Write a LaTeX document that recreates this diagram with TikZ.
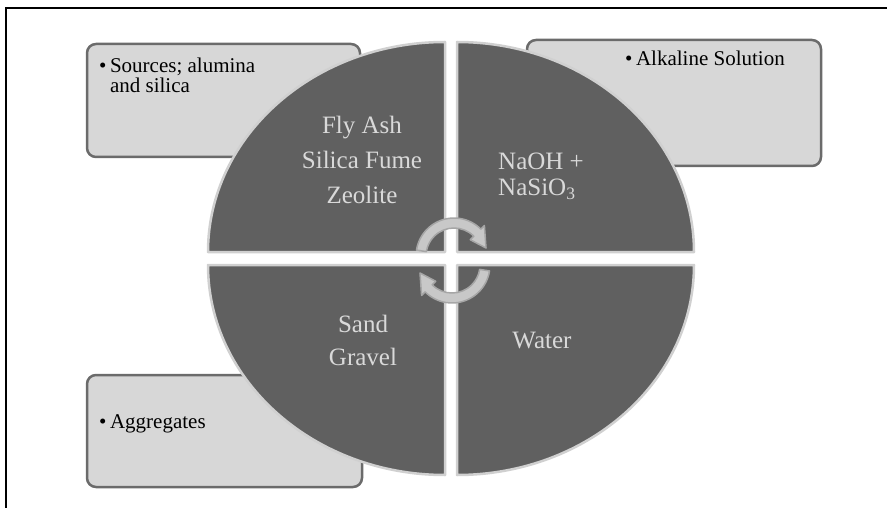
\documentclass[tikz,border=0pt]{standalone}
\usepackage{fontspec}
\setmainfont{Liberation Serif}

\definecolor{quadfill}{HTML}{606060}
\definecolor{quadedge}{HTML}{D0D0D0}
\definecolor{quadtext}{HTML}{D9D9D9}
\definecolor{boxfill}{HTML}{D7D7D7}
\definecolor{boxedge}{HTML}{6B6B6B}
\definecolor{arrowfill}{HTML}{C8C8C8}
\definecolor{arrowedge}{HTML}{A6A6A6}

\tikzset{
	infobox/.style={fill=boxfill, draw=boxedge, line width=2.5pt, rounded corners=9pt},
	quadrant/.style={fill=quadfill, draw=quadedge, line width=2.5pt, line join=round},
	quadlabel/.style={text=quadtext, font=\fontsize{25}{35}\selectfont, align=center, inner sep=0pt},
	boxlabel/.style={text=black, font=\fontsize{21}{20}\selectfont, align=left, inner sep=0pt},
	turnarrow/.style={fill=arrowfill, draw=arrowedge, line width=1.5pt, line join=round},
	pics/cyclearrow/.style={code={
		\draw[turnarrow] (9:38) arc (9:135:38) -- (135:43) -- (166:33) -- (135:23) -- (135:28) arc (135:9:28) -- cycle;
	}}
}

\begin{document}
\begin{tikzpicture}[x=1pt, y=-1pt]
		\useasboundingbox (0,0) rectangle (887,508);
		% frame
		\draw[line width=1.4pt] (887,8) -- (6,8) -- (6,508);
		
		% note boxes behind the circle
		\draw[infobox] (87,44) rectangle (360,157);
		\draw[infobox] (527,40) rectangle (821,166);
		\draw[infobox] (87,375) rectangle (362,487);
		
		% four quadrants
		\draw[quadrant] (445,252) -- (208,252) arc (180:270:237 and 210) -- cycle;
		\draw[quadrant] (457,252) -- (457,42) arc (270:360:237 and 210) -- cycle;
		\draw[quadrant] (445,265) -- (208,265) arc (180:90:237 and 210) -- cycle;
		\draw[quadrant] (457,265) -- (694,265) arc (0:90:237 and 210) -- cycle;
		
		% turning arrows in the middle
		\pic[rotate=180] at (454,256) {cyclearrow};
		\pic at (452,265) {cyclearrow};
		
		% quadrant texts
		\node[quadlabel] (binders) at (362,160) {Fly Ash\\Silica Fume\\Zeolite};
		\node[quadlabel, align=left, font=\fontsize{25}{26}\selectfont, anchor=north west] (activator) at (498,153) {NaOH +\\NaSiO\textsubscript{3}};
		\node[quadlabel, font=\fontsize{25}{33}\selectfont] (fillers) at (363,340) {Sand\\Gravel};
		\node[quadlabel, anchor=base] (water) at (542,348) {Water};
		
		% box texts
		\node[boxlabel, anchor=north west] (srcnote) at (99,58) {\textbullet\,Sources; alumina\\\phantom{\textbullet\,}and silica};
		\node[boxlabel, anchor=base west] (alknote) at (625,66) {\textbullet\,Alkaline Solution};
		\node[boxlabel, anchor=base west] (aggnote) at (99,428) {\textbullet\,Aggregates};
\end{tikzpicture}
\end{document}
